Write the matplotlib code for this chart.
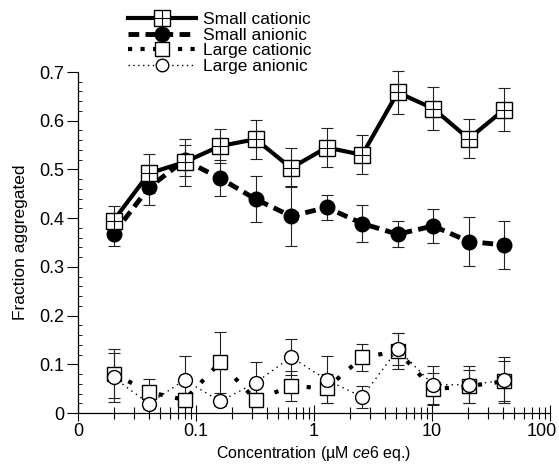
import numpy as np
import matplotlib.pyplot as plt
from matplotlib.lines import Line2D
from matplotlib.ticker import FixedLocator, NullFormatter
from matplotlib.transforms import ScaledTranslation

plt.rcParams['font.family'] = ['Liberation Sans', 'DejaVu Sans']
plt.rcParams['mathtext.fontset'] = 'custom'
plt.rcParams['mathtext.rm'] = 'Liberation Sans'
plt.rcParams['mathtext.it'] = 'Liberation Sans:italic'

# concentration (uM ce6 eq.)
conc = [0.02, 0.04, 0.08, 0.16, 0.32, 0.64, 1.28, 2.56, 5.12, 10.24, 20.48, 40.96]

small_cat = [0.395, 0.492, 0.515, 0.548, 0.562, 0.503, 0.545, 0.530, 0.658, 0.625, 0.563, 0.623]
small_cat_err = [0.030, 0.040, 0.048, 0.035, 0.040, 0.040, 0.040, 0.040, 0.045, 0.045, 0.040, 0.045]

small_an = [0.368, 0.463, 0.519, 0.482, 0.439, 0.404, 0.422, 0.389, 0.367, 0.384, 0.352, 0.345]
small_an_err = [0.025, 0.035, 0.032, 0.037, 0.047, 0.062, 0.025, 0.037, 0.027, 0.035, 0.050, 0.050]

large_cat = [0.081, 0.043, 0.027, 0.104, 0.027, 0.055, 0.051, 0.114, 0.127, 0.049, 0.055, 0.065]
large_cat_err = [0.050, 0.027, 0.015, 0.062, 0.015, 0.031, 0.030, 0.028, 0.037, 0.033, 0.034, 0.041]

large_an = [0.073, 0.019, 0.068, 0.024, 0.062, 0.115, 0.068, 0.033, 0.131, 0.058, 0.058, 0.067]
large_an_err = [0.050, 0.010, 0.048, 0.010, 0.042, 0.037, 0.048, 0.022, 0.033, 0.039, 0.038, 0.047]

fig = plt.figure(figsize=(5.59, 4.69), dpi=100)
ax = fig.add_axes([78 / 559, 1 - 413 / 469, 472 / 559, 341 / 469])

eb = dict(fmt='none', ecolor='#222222', elinewidth=0.8, capsize=4, capthick=0.8)
for y, e in [(small_cat, small_cat_err), (small_an, small_an_err),
             (large_cat, large_cat_err), (large_an, large_an_err)]:
    c = ax.errorbar(conc, y, yerr=e, zorder=2, **eb)
    for art in c.get_children():
        art.set_clip_on(False)

l_lc, = ax.plot(conc, large_cat, color='k', lw=3, linestyle=(0, (1, 3)),
                dash_capstyle='butt', marker='s', ms=10.5, mfc='white', mec='k',
                mew=1.0, zorder=3, clip_on=False)
l_la, = ax.plot(conc, large_an, color='k', lw=1.0, linestyle=(0, (1, 3)),
                marker='o', ms=10, mfc='white', mec='k', mew=1.0, zorder=4,
                clip_on=False)
l_sa, = ax.plot(conc, small_an, color='k', lw=3.5, linestyle=(0, (2.2, 1.3)),
                dash_capstyle='butt', marker='o', ms=10.5, mfc='k', mec='k',
                zorder=5, clip_on=False)
l_sc, = ax.plot(conc, small_cat, color='k', lw=3, marker='s', ms=11.5,
                mfc='white', mec='k', mew=1.0, zorder=6, clip_on=False)
l_sc_plus, = ax.plot(conc, small_cat, linestyle='none', marker='+', ms=11.5,
                     mec='k', mew=0.8, zorder=7, clip_on=False)

ax.set_xscale('log')
ax.set_xlim(0.01, 100)
ax.set_ylim(0, 0.7)

ax.xaxis.set_major_locator(FixedLocator([0.01, 0.1, 1, 10, 100]))
ax.set_xticklabels(['0', '0.1', '1', '10', '100'])
minor = [m * 10.0 ** d for d in range(-2, 2) for m in range(2, 10)]
ax.xaxis.set_minor_locator(FixedLocator(minor))
ax.xaxis.set_minor_formatter(NullFormatter())

ax.set_yticks([0, 0.1, 0.2, 0.3, 0.4, 0.5, 0.6, 0.7])
ax.set_yticklabels(['0', '0.1', '0.2', '0.3', '0.4', '0.5', '0.6', '0.7'])
ax.set_yticks(np.arange(0, 0.701, 0.02), minor=True)

ax.tick_params(axis='x', which='major', direction='inout', length=12, width=0.8,
               labelsize=13, pad=1)
ax.tick_params(axis='x', which='minor', direction='inout', length=8, width=0.8)
ax.tick_params(axis='y', which='major', direction='out', length=8, width=0.8,
               labelsize=13, pad=2)
ax.tick_params(axis='y', which='minor', direction='in', length=3, width=0.6)

# keep the "100" label inside the figure
last = ax.get_xticklabels()[-1]
last.set_transform(last.get_transform() + ScaledTranslation(-8 / 100, 0, fig.dpi_scale_trans))

for s in ['top', 'right']:
    ax.spines[s].set_visible(False)
for s in ['left', 'bottom']:
    ax.spines[s].set_linewidth(0.9)

ax.set_xlabel('Concentration (µM $\\mathit{ce6}$ eq.)', fontsize=11.5, labelpad=3)
ax.set_ylabel('Fraction aggregated', fontsize=12.5, labelpad=8)

h_sc = Line2D([], [], color='k', lw=3, marker='s', ms=11, mfc='white', mec='k', mew=1.0)
h_sc2 = Line2D([], [], linestyle='none', marker='+', ms=11, mec='k', mew=0.8)
h_sa = Line2D([], [], color='k', lw=3.5, linestyle=(0, (2.2, 1.3)), dash_capstyle='butt',
              marker='o', ms=10.5, mfc='k', mec='k')
h_lc = Line2D([], [], color='k', lw=3, linestyle=(0, (1, 2)), dash_capstyle='butt',
              marker='s', ms=10, mfc='white', mec='k', mew=1.0)
h_la = Line2D([], [], color='k', lw=1.0, linestyle=(0, (1, 2.5)),
              marker='o', ms=9, mfc='white', mec='k', mew=1.0)
fig.legend([(h_sc, h_sc2), h_sa, h_lc, h_la],
           ['Small cationic', 'Small anionic', 'Large cationic', 'Large anionic'],
           loc='upper left', bbox_to_anchor=(128 / 559, 1 - 12 / 469), frameon=False,
           fontsize=12.5, handlelength=3.9, handletextpad=0.4, labelspacing=0.02,
           numpoints=1, borderaxespad=0, borderpad=0)

fig.savefig('out.png', dpi=100)
